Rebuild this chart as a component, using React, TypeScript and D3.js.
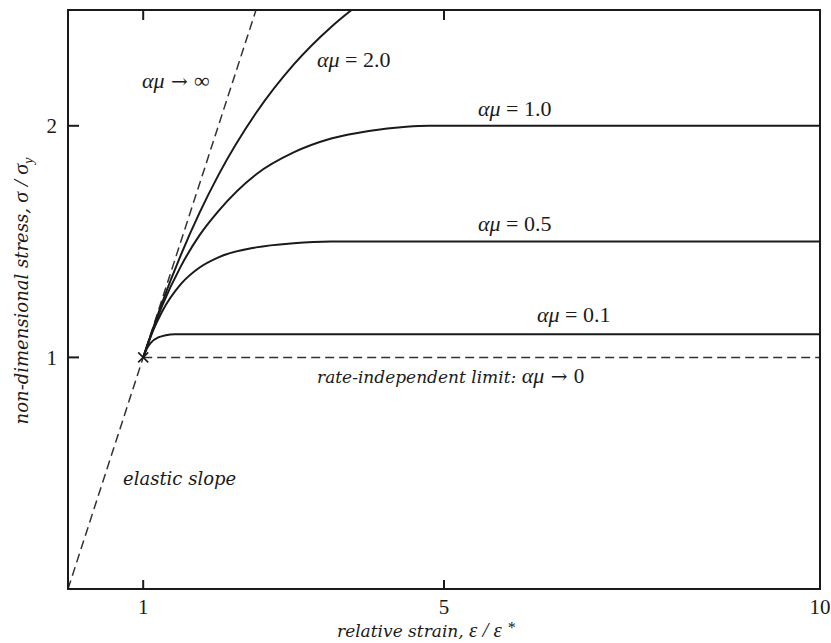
import React from "react";
import * as d3 from "d3";

// x: relative strain ε/ε*, y: non-dimensional stress σ/σy
const xTicks = [1, 5, 10];
const yTicks = [1, 2];

const elasticLine: [number, number][] = [[0, 0], [2.5, 2.5]];
const rateIndependent: [number, number][] = [[1, 1], [10, 1]];

const curve20: [number, number][] = [
  [1, 1], [1.25, 1.235], [1.5, 1.442], [1.75, 1.625], [2, 1.787],
  [2.5, 2.055], [3, 2.264], [3.5, 2.427], [3.77, 2.5],
];
const curve10: [number, number][] = [
  [1, 1], [1.25, 1.221], [1.5, 1.393], [1.75, 1.528], [2, 1.632],
  [2.5, 1.79], [3, 1.885], [3.5, 1.945], [4, 1.978], [4.5, 1.996],
  [4.8, 2.0], [10, 2.0],
];
const curve05: [number, number][] = [
  [1, 1], [1.125, 1.111], [1.25, 1.197], [1.5, 1.316], [1.75, 1.388],
  [2, 1.432], [2.5, 1.475], [3, 1.493], [3.5, 1.5], [10, 1.5],
];
const curve01: [number, number][] = [
  [1, 1], [1.05, 1.039], [1.1, 1.063], [1.2, 1.086], [1.3, 1.096],
  [1.42, 1.1], [10, 1.1],
];

const solidCurves = [curve20, curve10, curve05, curve01];

const W = 831;
const H = 643;
const x = d3.scaleLinear().domain([0, 10]).range([68, 820]);
const y = d3.scaleLinear().domain([0, 2.5]).range([589, 10]);

const line = d3
  .line<[number, number]>()
  .x((d) => x(d[0]))
  .y((d) => y(d[1]))
  .curve(d3.curveMonotoneX);

const times = "'Liberation Serif', serif";
const wide = "'DejaVu Serif', serif";
const ink = "#1a1a1a";

function MuLabel({ xp, yp, value }: { xp: number; yp: number; value: string }) {
  return (
    <text x={xp} y={yp} fontFamily={times} fontSize={22} fill={ink}>
      <tspan fontStyle="italic">αμ</tspan>
      <tspan> = {value}</tspan>
    </text>
  );
}

export default function App() {
  const x0 = x.range()[0];
  const x1 = x.range()[1];
  const y0 = y.range()[0];
  const y1 = y.range()[1];
  const yieldPt = { cx: x(1), cy: y(1) };
  return (
    <svg
      width={W}
      height={H}
      style={{ position: "absolute", left: 0, top: 0, background: "#fff" }}
      fontFamily={times}
    >
      <defs>
        <clipPath id="plot">
          <rect x={x0} y={y1} width={x1 - x0} height={y0 - y1} />
        </clipPath>
      </defs>
      <g clipPath="url(#plot)">
        <path d={line(elasticLine) || ""} fill="none" stroke="#333" strokeWidth={1.5} strokeDasharray="9,5" />
        <path d={line(rateIndependent) || ""} fill="none" stroke="#333" strokeWidth={1.5} strokeDasharray="9,5" />
        {solidCurves.map((c, i) => (
          <path key={i} d={line(c) || ""} fill="none" stroke={ink} strokeWidth={2} />
        ))}
      </g>
      {/* yield marker */}
      <g stroke={ink} strokeWidth={1.6}>
        <line x1={yieldPt.cx - 5} y1={yieldPt.cy - 5} x2={yieldPt.cx + 5} y2={yieldPt.cy + 5} />
        <line x1={yieldPt.cx - 5} y1={yieldPt.cy + 5} x2={yieldPt.cx + 5} y2={yieldPt.cy - 5} />
      </g>
      {/* frame */}
      <rect x={x0} y={y1} width={x1 - x0} height={y0 - y1} fill="none" stroke={ink} strokeWidth={2} />
      {/* ticks */}
      {xTicks.filter((t) => t < 10).map((t) => (
        <g key={"xt" + t} stroke={ink} strokeWidth={2}>
          <line x1={x(t)} x2={x(t)} y1={y0} y2={y0 - 9} />
          <line x1={x(t)} x2={x(t)} y1={y1} y2={y1 + 10} />
        </g>
      ))}
      {yTicks.map((t) => (
        <line key={"yt" + t} x1={x0} x2={x0 + 11} y1={y(t)} y2={y(t)} stroke={ink} strokeWidth={2} />
      ))}
      {/* tick labels */}
      {xTicks.map((t) => (
        <text key={"xl" + t} x={x(t)} y={614} textAnchor="middle" fontSize={21} fill={ink}>
          {t}
        </text>
      ))}
      {yTicks.map((t) => (
        <text key={"yl" + t} x={57} y={y(t)} dy="0.35em" textAnchor="end" fontSize={21} fill={ink}>
          {t}
        </text>
      ))}
      {/* curve labels */}
      <text x={142} y={88} fontFamily={times} fontSize={22} fill={ink}>
        <tspan fontStyle="italic">αμ</tspan>
        <tspan fontFamily={wide} fontSize={20}> → </tspan>
        <tspan>∞</tspan>
      </text>
      <MuLabel xp={317} yp={67} value="2.0" />
      <MuLabel xp={478} yp={116} value="1.0" />
      <MuLabel xp={478} yp={231} value="0.5" />
      <MuLabel xp={537} yp={322} value="0.1" />
      <text x={317} y={383} fontFamily={wide} fontStyle="italic" fontSize={17} fill={ink}>
        rate-independent limit:
        <tspan fontFamily={times} fontSize={22}> αμ</tspan>
        <tspan fontFamily={wide} fontStyle="normal" fontSize={20}> → </tspan>
        <tspan fontFamily={times} fontStyle="normal" fontSize={21}>0</tspan>
      </text>
      <text x={123} y={485} fontFamily={wide} fontStyle="italic" fontSize={18} fill={ink}>
        elastic slope
      </text>
      {/* axis titles */}
      <text x={337} y={637} fontFamily={wide} fontStyle="italic" fontSize={17} fill={ink}>
        relative strain,
        <tspan fontFamily={times} fontSize={21}>  ε / ε </tspan>
        <tspan fontFamily={times} fontSize={16} dy={-4}>*</tspan>
      </text>
      <text
        transform="translate(28,291) rotate(-90)"
        textAnchor="middle"
        fontFamily={wide}
        fontStyle="italic"
        fontSize={18}
        fill={ink}
      >
        non-dimensional stress,
        <tspan fontFamily={times} fontSize={22}>   σ / σ</tspan>
        <tspan fontFamily={times} fontSize={14} dy={5}>y</tspan>
      </text>
    </svg>
  );
}
